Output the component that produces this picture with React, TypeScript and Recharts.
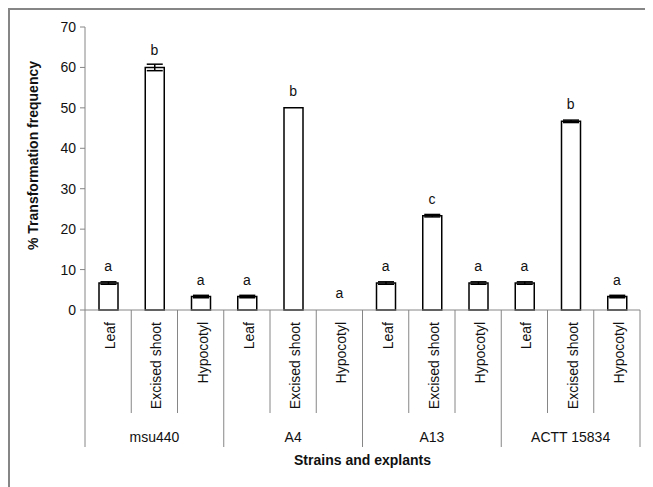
import React from "react";
import { ComposedChart, Bar, Scatter, XAxis, YAxis, ErrorBar } from "recharts";

const strains = ["msu440", "A4", "A13", "ACTT 15834"];
const explants = ["Leaf", "Excised shoot", "Hypocotyl"];
const freq = [
  [6.67, 60, 3.33],
  [3.33, 50, 0],
  [6.67, 23.33, 6.67],
  [6.67, 46.67, 3.33],
];
const se = [
  [0.3, 0.8, 0.3],
  [0.3, 0, 0],
  [0.3, 0.3, 0.3],
  [0.3, 0.3, 0.3],
];
const letters = [
  ["a", "b", "a"],
  ["a", "b", "a"],
  ["a", "c", "a"],
  ["a", "b", "a"],
];
const yTicks = [0, 10, 20, 30, 40, 50, 60, 70];

const rows = strains.flatMap((s, i) =>
  explants.map((e, j) => ({
    key: `${s}|${e}`,
    strain: s,
    explant: e,
    value: freq[i][j],
    err: se[i][j],
    letter: letters[i][j],
  }))
);

const FONT = "'Liberation Sans', Arial, sans-serif";
const AXIS = "#868686";

function CatTick(props: any) {
  const { x, y, payload, index } = props;
  const half = payload?.offset || 23;
  const row = rows[index];
  if (!row) return null;
  const pos = index % 3;
  const ty = y + 12;
  return (
    <g>
      <text
        x={x + 2}
        y={ty}
        transform={`rotate(-90, ${x + 2}, ${ty})`}
        textAnchor="end"
        dominantBaseline="central"
        fontFamily={FONT}
        fontSize={14}
        fill="#111"
      >
        {row.explant}
      </text>
      {index === 0 && (
        <line x1={x - half} x2={x - half} y1={y} y2={y + 137} stroke={AXIS} strokeWidth={1} />
      )}
      <line
        x1={x + half}
        x2={x + half}
        y1={y}
        y2={pos === 2 ? y + 137 : y + 103}
        stroke={AXIS}
        strokeWidth={1}
      />
      {pos === 1 && (
        <text
          x={x}
          y={y + 127}
          textAnchor="middle"
          dominantBaseline="central"
          fontFamily={FONT}
          fontSize={14}
          fill="#111"
        >
          {row.strain}
        </text>
      )}
    </g>
  );
}

// significance letter drawn above each bar
function Letter(props: any) {
  const { cx, cy, payload } = props;
  if (cx == null || cy == null) return null;
  return (
    <text
      x={cx}
      y={cy - 12}
      textAnchor="middle"
      fontFamily={FONT}
      fontSize={14}
      fill="#111"
    >
      {payload.letter}
    </text>
  );
}

export default function App() {
  return (
    <div
      style={{
        width: 643,
        height: 477,
        borderTop: `2px solid ${AXIS}`,
        borderLeft: `2px solid ${AXIS}`,
        background: "#fff",
        fontFamily: FONT,
      }}
    >
      <ComposedChart
        width={643}
        height={477}
        data={rows}
        margin={{ top: 17, right: 13, bottom: 0, left: 0 }}
        barCategoryGap={0}
      >
        <XAxis
          dataKey="key"
          interval={0}
          tickLine={false}
          tickSize={0}
          tickMargin={0}
          height={177}
          stroke={AXIS}
          tick={<CatTick />}
          label={{
            value: "Strains and explants",
            position: "insideBottom",
            offset: 22,
            style: { fontWeight: "bold", fontSize: 14, fill: "#111", fontFamily: FONT },
          }}
        />
        <YAxis
          domain={[0, 70]}
          ticks={yTicks}
          interval={0}
          width={75}
          tickSize={5}
          tickMargin={4}
          stroke={AXIS}
          tick={{ fill: "#111", fontSize: 14, fontFamily: FONT }}
          label={{
            value: "% Transformation frequency",
            angle: -90,
            position: "insideLeft",
            offset: 23,
            dy: -13,
            style: { textAnchor: "middle", fontWeight: "bold", fontSize: 14, fill: "#111", fontFamily: FONT },
          }}
        />
        <Bar
          dataKey="value"
          fill="#fff"
          stroke="#000"
          strokeWidth={1.5}
          barSize={19}
          isAnimationActive={false}
        >
          <ErrorBar dataKey="err" width={8} stroke="#000" strokeWidth={1.5} />
        </Bar>
        <Scatter dataKey="value" shape={<Letter />} isAnimationActive={false} />
      </ComposedChart>
    </div>
  );
}
